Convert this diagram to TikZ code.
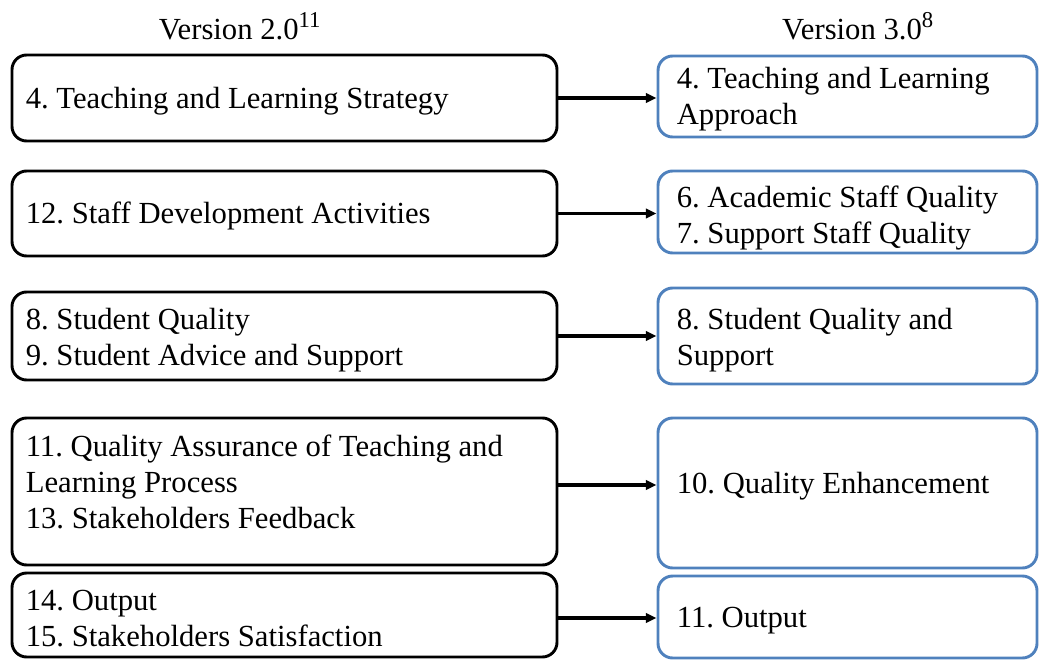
\documentclass[tikz,border=0pt]{standalone}
\usepackage{fontspec}
\setmainfont{Liberation Serif}
\usetikzlibrary{arrows.meta}
\definecolor{boxblue}{RGB}{79,129,189}
\tikzset{
  x=0.75pt, y=-0.75pt,
  basebox/.style={rounded corners=11pt, line width=2.2pt, anchor=center, inner sep=0pt},
  lbox/.style={basebox, draw=black, minimum width=408.75pt},
  rbox/.style={basebox, draw=boxblue, minimum width=284.25pt},
  txt/.style={font=\fontsize{23}{27}\selectfont\frenchspacing, align=left, inner sep=0pt, anchor=west},
  conn/.style={line width=2.4pt, -{Triangle[length=8pt,width=7pt]}},
  head/.style={font=\fontsize{23}{27}\selectfont, anchor=base}
}
\begin{document}
\begin{tikzpicture}
\useasboundingbox (0,0) rectangle (1041,660);
\node[head] (h1) at (240,40) {Version 2.0\textsuperscript{\fontsize{17}{17}\selectfont 11}};
\node[head] (h2) at (858,40) {Version 3.0\textsuperscript{\fontsize{17}{17}\selectfont 8}};

% left boxes
\node[lbox, minimum height=64.5pt] (l1) at (284.5,98) {};
\node[lbox, minimum height=63.75pt] (l2) at (284.5,213.5) {};
\node[lbox, minimum height=66pt] (l3) at (284.5,336) {};
\node[lbox, minimum height=110.25pt] (l4) at (284.5,491.5) {};
\node[lbox, minimum height=63pt] (l5) at (284.5,615) {};
% right boxes
\node[rbox, minimum height=60.75pt] (r1) at (847.5,96.5) {};
\node[rbox, minimum height=61.5pt] (r2) at (847.5,212) {};
\node[rbox, minimum height=72pt] (r3) at (847.5,336) {};
\node[rbox, minimum height=112.5pt] (r4) at (847.5,493) {};
\node[rbox, minimum height=61.5pt] (r5) at (847.5,617) {};

% texts
\node[txt] (l1t) at ([xshift=11.25pt, yshift=-2.25pt]l1.west) {4. Teaching and Learning Strategy};
\node[txt] (l2t) at ([xshift=11.25pt, yshift=-1.5pt]l2.west) {12. Staff Development Activities};
\node[txt] (l3t) at ([xshift=11.25pt, yshift=-3pt]l3.west) {8. Student Quality\\9. Student Advice and Support};
\node[txt] (l4t) at ([xshift=11.25pt, yshift=7.5pt]l4.west) {11. Quality Assurance of Teaching and\\Learning Process\\13. Stakeholders Feedback};
\node[txt] (l5t) at ([xshift=11.25pt, yshift=-3pt]l5.west) {14. Output\\15. Stakeholders Satisfaction};

\node[txt] (r1t) at ([xshift=15pt, yshift=-2.25pt]r1.west) {4. Teaching and Learning\\Approach};
\node[txt] (r2t) at ([xshift=15pt, yshift=-4.5pt]r2.west) {6. Academic Staff Quality\\7. Support Staff Quality};
\node[txt] (r3t) at ([xshift=15pt, yshift=-3pt]r3.west) {8. Student Quality and\\Support};
\node[txt] (r4t) at ([xshift=15pt, yshift=5.25pt]r4.west) {10. Quality Enhancement};
\node[txt] (r5t) at ([xshift=15pt, yshift=-3pt]r5.west) {11. Output};

% connectors
\draw[conn] (l1.east) -- (r1.west |- l1.east);
\draw[conn] (l2.east) -- (r2.west |- l2.east);
\draw[conn] (l3.east) -- (r3.west |- l3.east);
\draw[conn] (l4.east |- 0,485) -- (r4.west |- 0,485);
\draw[conn] (l5.east |- 0,618) -- (r5.west |- 0,618);
\end{tikzpicture}
\end{document}
